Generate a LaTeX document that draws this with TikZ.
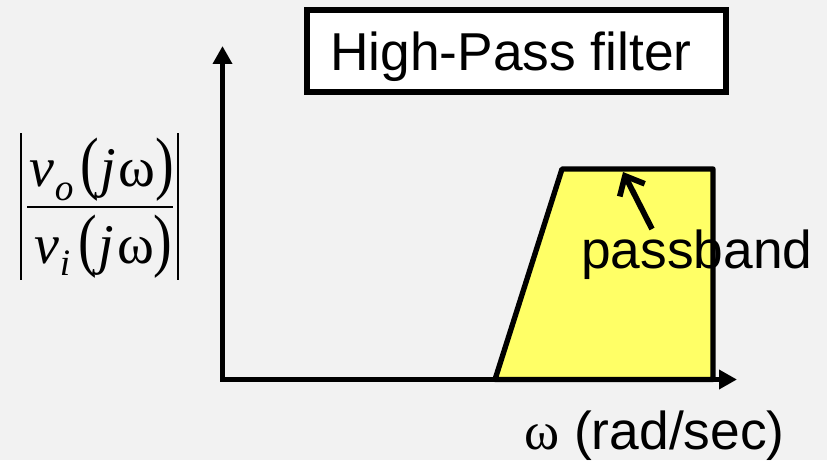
\documentclass[tikz,border=0pt]{standalone}
\usepackage{fontspec}
\setmainfont{Liberation Sans}
\newfontfamily\tms{Liberation Serif}
\usepackage{graphicx}
\usetikzlibrary{arrows.meta}
\definecolor{bgc}{HTML}{F2F2F2}
\definecolor{passyellow}{HTML}{FFFF66}
\begin{document}
\begin{tikzpicture}[x=0.75pt,y=-0.75pt,
  axisline/.style={line width=4.4pt,{Triangle[width=14pt,length=13.5pt]}-{Triangle[width=14pt,length=13.5pt]}},
  bandshape/.style={line width=4pt,fill=passyellow,line join=round},
  titlebox/.style={draw,fill=white,line width=4.5pt,minimum width=314.25pt,minimum height=61.5pt,inner sep=0pt},
  bigtext/.style={font=\fontsize{40}{46}\selectfont,inner sep=0pt},
  mathtext/.style={font=\fontsize{42}{48}\selectfont\tms,inner sep=0pt},
  pointer/.style={line width=4.3pt,-{Straight Barb[length=12pt,width=21pt,line width=4.3pt]}}
]
\useasboundingbox[fill=bgc] (0,0) rectangle (827,460);
% passband region
\draw[bandshape] (495,379.5) -- (562,169) -- (713,169) -- (713,379.5) -- cycle;
% axes
\coordinate (ytip) at (222.5,46);
\coordinate (origin) at (222.5,379.5);
\coordinate (xtip) at (737,379.5);
\draw[axisline] (ytip) -- (origin) -- (xtip);
% title
\node[titlebox] (title) at (516.5,51) {};
\node[bigtext,anchor=base] (titletext) at (511,70) {High-Pass filter};
% passband label and pointer
\node[bigtext,anchor=base west] (pb) at (581,268) {passband};
\coordinate (pbtop) at (623,172);
\coordinate (pbfrom) at (652,229);
\draw[pointer] (pbfrom) -- (pbtop);
% frequency label
\node[bigtext,anchor=base west] (wl) at (524,449) {{\tms ω} (rad/sec)};
% transfer function magnitude
\node[mathtext,anchor=base west] (num) at (29,186)
  {\itshape v\hspace{0.5pt}\raisebox{-10.5pt}{\fontsize{28}{30}\selectfont o}\hspace{5pt}\upshape\scalebox{1}[1.25]{(}\hspace{1.5pt}\itshape j\hspace{2pt}\upshape ω\scalebox{1}[1.25]{)}};
\node[mathtext,anchor=base west] (den) at (34,263)
  {\itshape v\hspace{0.5pt}\raisebox{-9pt}{\fontsize{28}{30}\selectfont i}\hspace{6pt}\upshape\scalebox{1}[1.25]{(}\hspace{1.5pt}\itshape j\hspace{2pt}\upshape ω\scalebox{1}[1.25]{)}};
\draw[line width=2pt] (27,207) -- (173,207);
\draw[line width=2pt] (21,133) -- (21,280);
\draw[line width=2pt] (178,133) -- (178,280);
\end{tikzpicture}
\end{document}
